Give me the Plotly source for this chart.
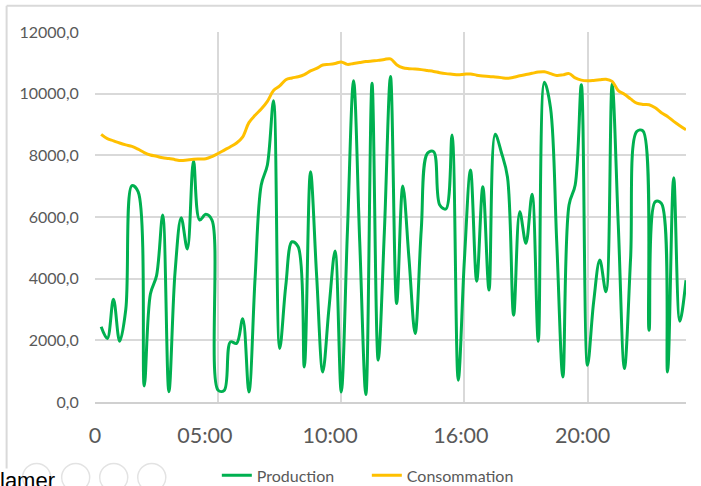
import plotly.graph_objects as go

# ---- data ----
hours = [0.25 * k for k in range(1, 97)]  # 00:15 ... 24:00, 15-minute steps

production = [
    2440, 2060, 3335, 1970, 3000, 7016, 6820, 520, 3500, 4100,
    6064, 330, 4200, 5976, 4960, 7818, 5902, 6086, 5902, 380,
    380, 1950, 1900, 2700, 325, 4000, 7037, 7688, 9767, 1735,
    3790, 5197, 5035, 1137, 7470, 4100, 975, 3030, 4895, 325,
    5520, 10416, 5200, 240, 10340, 1355, 5500, 10556, 3195, 7006,
    4660, 2222, 5600, 8068, 8120, 6390, 6260, 8660, 705, 4600,
    7525, 3920, 6985, 3630, 8685, 8100, 7300, 2815, 6170, 5145,
    6736, 1971, 10374, 9530, 5200, 812, 6390, 7038, 10286, 1192,
    3248, 4602, 3573, 10310, 5740, 1085, 4657, 8770, 8790, 2329,
    6496, 6440, 975, 7276, 2620, 3952,
]

consommation = [
    8680, 8540, 8470, 8400, 8340, 8290, 8200, 8090, 8010, 7970,
    7920, 7900, 7860, 7830, 7850, 7870, 7880, 7890, 7960, 8060,
    8170, 8280, 8400, 8600, 9060, 9300, 9500, 9750, 10100, 10250,
    10450, 10510, 10550, 10620, 10740, 10820, 10930, 10950, 10980, 11030,
    10950, 10980, 11010, 11040, 11060, 11080, 11110, 11130, 10940, 10840,
    10810, 10800, 10780, 10750, 10720, 10680, 10650, 10630, 10610, 10630,
    10640, 10600, 10570, 10560, 10540, 10520, 10500, 10530, 10580, 10620,
    10660, 10700, 10710, 10650, 10590, 10610, 10650, 10510, 10440, 10420,
    10430, 10450, 10470, 10400, 10100, 9980, 9830, 9690, 9650, 9640,
    9540, 9380, 9260, 9100, 8960, 8830,
]

x_tick_positions = [0, 4.46, 9.55, 14.86, 19.8]
x_tick_labels = ["0", "05:00", "10:00", "16:00", "20:00"]
x_grid_positions = [0, 5, 10, 15, 20]
y_tick_values = [0, 2000, 4000, 6000, 8000, 10000, 12000]
y_tick_labels = ["0,0", "2000,0", "4000,0", "6000,0", "8000,0", "10000,0", "12000,0"]

# ---- layout geometry ----
W, H = 701, 486
L, R, T, B = 95.3, 685.7, 32.3, 401.7


def px2x(px):
    return (px - L) / (R - L)


def px2y(py):
    return (B - py) / (B - T)


FONT = "Lato"
GRAY = "#595959"
GRID = "#d9d9d9"

fig = go.Figure()
fig.add_trace(go.Scatter(
    x=hours, y=production, name="Production", mode="lines",
    line=dict(color="#00b050", width=3, shape="spline"),
))
fig.add_trace(go.Scatter(
    x=hours, y=consommation, name="Consommation", mode="lines",
    line=dict(color="#ffc000", width=3, shape="spline"),
))

shapes = [
    # outer frame of the chart area (top and left edges)
    dict(type="line", xref="paper", yref="paper",
         x0=px2x(7), x1=px2x(701), y0=px2y(6), y1=px2y(6),
         line=dict(color="#d9d9d9", width=2)),
    dict(type="line", xref="paper", yref="paper",
         x0=px2x(7), x1=px2x(7), y0=px2y(6), y1=px2y(468),
         line=dict(color="#d9d9d9", width=2)),
]
for cx in [37, 76, 114, 152]:
    shapes.append(dict(type="circle", xref="paper", yref="paper",
                       x0=px2x(cx - 14), x1=px2x(cx + 14),
                       y0=px2y(463), y1=px2y(491),
                       line=dict(color="#e3e3e3", width=1.5)))

fig.update_layout(
    width=W, height=H,
    margin=dict(l=L, r=W - R, t=T, b=H - B, autoexpand=False),
    paper_bgcolor="white", plot_bgcolor="white",
    font=dict(family=FONT, color=GRAY),
    showlegend=True,
    legend=dict(orientation="h", x=px2x(217), y=px2y(475),
                xanchor="left", yanchor="middle",
                entrywidth=105, entrywidthmode="pixels",
                font=dict(family=FONT, size=16, color=GRAY),
                bgcolor="rgba(0,0,0,0)", traceorder="normal"),
    shapes=shapes,
    annotations=[dict(text="lamer", xref="paper", yref="paper",
                      x=px2x(-2), y=px2y(480), xanchor="left", yanchor="middle",
                      showarrow=False,
                      font=dict(family="Liberation Sans", size=22, color="black"))],
    xaxis=dict(
        range=[0, 24], tickmode="array",
        tickvals=x_tick_positions, ticktext=x_tick_labels,
        showgrid=False, zeroline=False,
        ticks="outside", ticklen=13, tickcolor="rgba(0,0,0,0)",
        tickfont=dict(family=FONT, size=21.5, color=GRAY),
        showline=True, linecolor="#d0d0d0", linewidth=2,
        minor=dict(tickmode="array", tickvals=x_grid_positions,
                   showgrid=True, gridcolor=GRID, gridwidth=2, ticks=""),
    ),
    yaxis=dict(
        range=[0, 12000], tickmode="array",
        tickvals=y_tick_values, ticktext=y_tick_labels,
        showgrid=True, gridcolor=GRID, gridwidth=2, zeroline=False,
        ticks="outside", ticklen=12, tickcolor="rgba(0,0,0,0)",
        tickfont=dict(family=FONT, size=16, color=GRAY),
        showline=False,
    ),
)

fig.write_html(
    "out.html",
    config={"displayModeBar": False},
    post_script="document.body.style.margin='0';document.body.style.overflow='hidden';",
)
